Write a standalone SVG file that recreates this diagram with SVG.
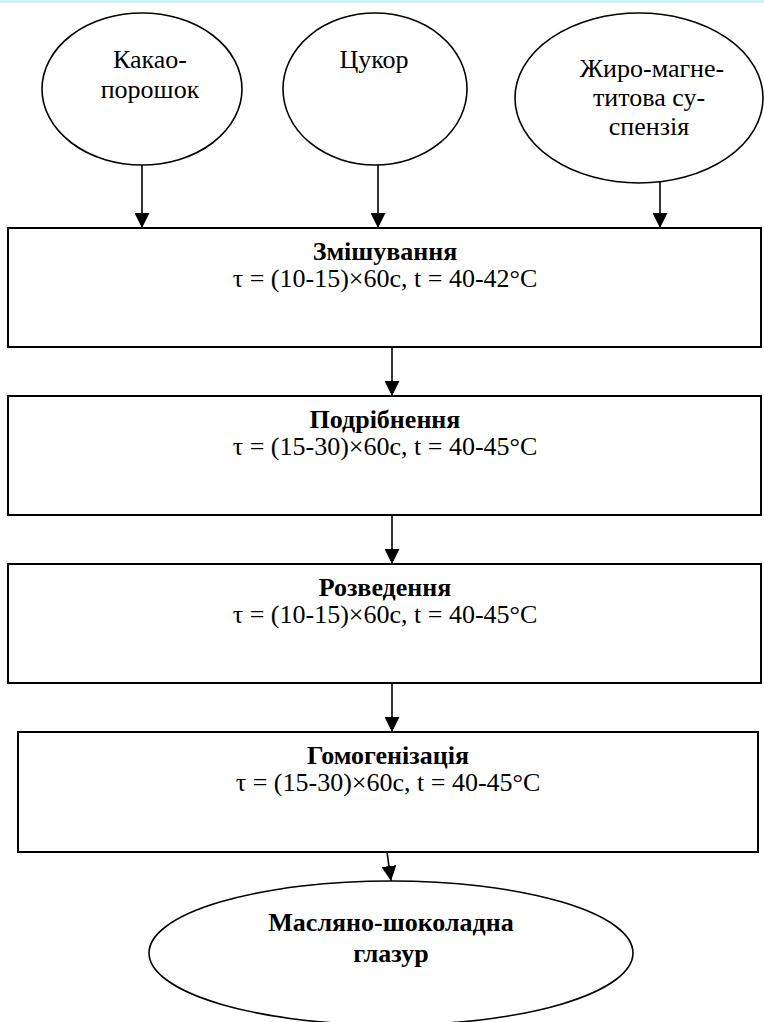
<svg xmlns="http://www.w3.org/2000/svg" width="764" height="1022" viewBox="0 0 764 1022">
<defs>
<marker id="arr" markerWidth="15" markerHeight="15" refX="15" refY="7.5" orient="auto" markerUnits="userSpaceOnUse" viewBox="0 0 15 15"><path d="M0,0 L15,7.5 L0,15 Z" fill="#000"/></marker>
</defs>
<style>
.b{font-weight:bold}
.box{fill:#fff;stroke:#000;stroke-width:2}
.ell{fill:#fff;stroke:#000;stroke-width:1.6}
.con{stroke:#000;stroke-width:1.6;fill:none;marker-end:url(#arr)}
</style>
<rect x="0" y="0" width="764" height="1022" fill="#fff"/>
<rect x="0" y="0" width="764" height="3" fill="#d2f0fb"/>

<g font-family="Liberation Serif, Times New Roman, DejaVu Serif, serif" font-size="26" text-anchor="middle" fill="#000">
<g id="n-cocoa">
<ellipse class="ell" cx="142" cy="89" rx="100" ry="76"/>
<text x="150" y="68">Какао-</text>
<text x="150" y="98">порошок</text>
</g>
<g id="n-sugar">
<ellipse class="ell" cx="375" cy="89" rx="92" ry="76"/>
<text x="374" y="68">Цукор</text>
</g>
<g id="n-suspension">
<ellipse class="ell" cx="639" cy="98" rx="124" ry="85"/>
<text x="652" y="77">Жиро-магне-</text>
<text x="649" y="106">титова су-</text>
<text x="649" y="135">спензія</text>
</g>

<g id="n-mixing">
<rect class="box" x="8" y="228" width="753" height="119"/>
<text class="b" x="385" y="260">Змішування</text>
<text x="385" y="287">τ = (10-15)×60с, t = 40-42°C</text>
</g>
<g id="n-grinding">
<rect class="box" x="8" y="396" width="753" height="119"/>
<text class="b" x="385" y="428">Подрібнення</text>
<text x="385" y="455">τ = (15-30)×60с, t = 40-45°C</text>
</g>
<g id="n-dilution">
<rect class="box" x="8" y="564" width="753" height="119"/>
<text class="b" x="385" y="596">Розведення</text>
<text x="385" y="623">τ = (10-15)×60с, t = 40-45°C</text>
</g>
<g id="n-homogenization">
<rect class="box" x="18" y="732" width="740" height="120"/>
<text class="b" x="388" y="764">Гомогенізація</text>
<text x="388" y="791">τ = (15-30)×60с, t = 40-45°C</text>
</g>
<g id="n-glaze">
<ellipse class="ell" cx="391" cy="953" rx="242" ry="72"/>
<text class="b" x="391" y="931">Масляно-шоколадна</text>
<text class="b" x="391" y="962">глазур</text>
</g>
</g>

<g id="connectors">
<line class="con" x1="142" y1="165" x2="142" y2="228"/>
<line class="con" x1="378" y1="165" x2="378" y2="228"/>
<line class="con" x1="660" y1="182" x2="660" y2="228"/>
<line class="con" x1="392" y1="347" x2="392" y2="396"/>
<line class="con" x1="392" y1="515" x2="392" y2="564"/>
<line class="con" x1="392" y1="683" x2="392" y2="732"/>
<line class="con" x1="387" y1="852" x2="391" y2="881"/>
</g>
</svg>
